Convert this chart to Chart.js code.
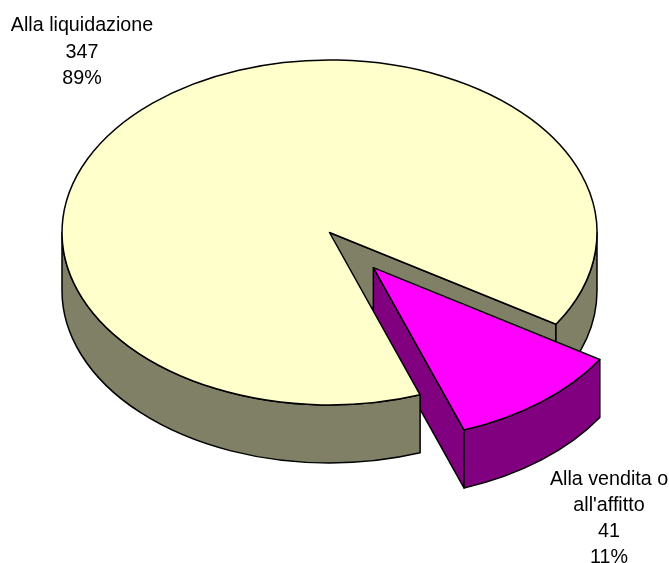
<!DOCTYPE html>
<html>
<head>
<meta charset="utf-8">
<style>html,body{margin:0;padding:0;background:#fff;overflow:hidden}canvas{display:block}</style>
<script src="https://cdn.jsdelivr.net/npm/chart.js@4/dist/chart.umd.min.js"></script>
</head>
<body>
<canvas id="c" width="669" height="563"></canvas>
<script>
const categories = [["Alla liquidazione"], ["Alla vendita o", "all'affitto"]];
const values = [347, 41];
const topColors = ["#FFFFCC", "#FF00FF"];
const sideColors = ["#808066", "#800080"];
const explode = [0, 65];
const labelAnchors = [{x: 82, y: 26}, {x: 609, y: 479.5}];

const view = {cx: 329.5, cy: 232.5, rx: 267.5, ry: 172.5, depth: 58, line: 1.5, font: '19.7px "Liberation Sans", Arial, sans-serif', lineHeight: 26.1};

const pie3d = {
  id: 'pie3d',
  beforeDatasetsDraw(chart) {
    const ctx = chart.ctx;
    const arcs = chart.getDatasetMeta(0).data;
    const R = arcs[0].outerRadius;
    const cx0 = arcs[0].x, cy0 = arcs[0].y;
    const shapes = arcs.map((arc, i) => {
      const mid = (arc.startAngle + arc.endAngle) / 2;
      const off = arc.options.offset || 0;
      return {
        a0: arc.startAngle, a1: arc.endAngle,
        cx: view.cx + (arc.x - cx0 + Math.cos(mid) * off) * view.rx / R,
        cy: view.cy + (arc.y - cy0 + Math.sin(mid) * off) * view.ry / R,
        top: topColors[i], side: sideColors[i]
      };
    });
    const pt = (s, a) => ({x: s.cx + view.rx * Math.cos(a), y: s.cy + view.ry * Math.sin(a)});
    const paint = (fill) => {
      ctx.fillStyle = fill; ctx.fill();
      ctx.strokeStyle = '#000'; ctx.lineWidth = view.line; ctx.lineJoin = 'round'; ctx.stroke();
    };
    const drawTop = (s) => {
      ctx.beginPath();
      ctx.moveTo(s.cx, s.cy);
      ctx.ellipse(s.cx, s.cy, view.rx, view.ry, 0, s.a0, s.a1);
      ctx.closePath();
      paint(s.top);
    };
    const drawFace = (s, a) => {
      const p = pt(s, a);
      ctx.beginPath();
      ctx.moveTo(s.cx, s.cy);
      ctx.lineTo(p.x, p.y);
      ctx.lineTo(p.x, p.y + view.depth);
      ctx.lineTo(s.cx, s.cy + view.depth);
      ctx.closePath();
      paint(s.side);
    };
    const drawWall = (s, b0, b1) => {
      const lo = Math.max(s.a0, b0), hi = Math.min(s.a1, b1);
      if (hi <= lo) return;
      ctx.beginPath();
      ctx.ellipse(s.cx, s.cy, view.rx, view.ry, 0, lo, hi);
      ctx.ellipse(s.cx, s.cy + view.depth, view.rx, view.ry, 0, hi, lo, true);
      ctx.closePath();
      paint(s.side);
    };
    const PI = Math.PI;
    const [main, part] = shapes;
    drawFace(main, main.a1);          // cut face seen through the gap
    drawWall(main, 2 * PI, 3 * PI);   // right part of the rim
    drawFace(part, part.a1);          // exploded slice, cut face
    drawWall(part, 2 * PI, 3 * PI);   // exploded slice, rim
    drawWall(main, 0, PI);            // front of the rim
    drawTop(main);
    drawTop(part);
    return false;
  },
  afterDraw(chart) {
    const ctx = chart.ctx;
    const total = values.reduce((a, b) => a + b, 0);
    ctx.save();
    ctx.fillStyle = '#000';
    ctx.font = view.font;
    ctx.textAlign = 'center';
    ctx.textBaseline = 'middle';
    categories.forEach((cat, i) => {
      const lines = [...cat, String(values[i]), Math.round(values[i] / total * 100) + '%'];
      lines.forEach((t, j) => ctx.fillText(t, labelAnchors[i].x, labelAnchors[i].y + j * view.lineHeight));
    });
    ctx.restore();
  }
};

new Chart(document.getElementById('c'), {
  type: 'pie',
  data: {
    labels: categories.map(c => c.join(' ')),
    datasets: [{data: values, backgroundColor: topColors, borderColor: '#000', borderWidth: 1, offset: explode}]
  },
  options: {
    responsive: false,
    animation: false,
    rotation: 160.2,
    layout: {padding: 0},
    plugins: {legend: {display: false}, tooltip: {enabled: false}}
  },
  plugins: [pie3d]
});
</script>
</body>
</html>
